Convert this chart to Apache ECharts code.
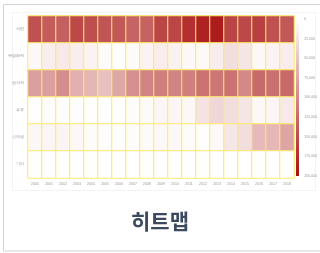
<!DOCTYPE html>
<html>
<head>
<meta charset="utf-8">
<script src="https://cdn.jsdelivr.net/npm/echarts@6/dist/echarts.min.js"></script>
<style>
html,body{margin:0;padding:0;background:#fff;}
#c{width:320px;height:253px;}
</style>
</head>
<body>
<div id="c"></div>
<script>
const years = ["2000","2001","2002","2003","2004","2005","2006","2007","2008","2009","2010","2011","2012","2013","2014","2015","2016","2017","2018"];
const rows = ["석탄","복합화력","원자력","유류","신재생","기타"];
const row1 = [146000,136000,133000,153000,148000,143000,140000,130000,131000,155000,155000,173000,185000,190000,156000,153000,160000,146000,140000];
const row2 = [6000,14000,18000,14000,10000,4000,2000,4000,10000,16000,12000,6000,5000,16000,28000,22000,6000,10000,16000];
const row3 = [80000,80000,95000,66000,61000,53000,73000,93000,103000,108000,104000,108000,118000,115000,118000,100000,125000,120000,125000];
const row4 = [1000,3000,2000,2000,1000,1000,1000,3000,4000,8000,8000,6000,24000,34000,28000,22000,6000,8000,18000];
const row5 = [7000,8000,9000,6000,3000,2000,2000,3000,4000,6000,6000,3000,1000,5000,20000,28000,58000,60000,75000];
const row6 = [0,0,0,0,0,0,0,0,0,0,0,0,0,0,0,0,0,0,0];
const scaleMax = 200000;
const scaleTicks = 25000;
const title = "히트맵";

const allRows = [row1,row2,row3,row4,row5,row6];
const data = [];
allRows.forEach((r, ri) => r.forEach((v, xi) => data.push([xi, ri, v])));

const chart = echarts.init(document.getElementById('c'), null, {renderer:'canvas'});
chart.setOption({
  backgroundColor:'#ffffff',
  animation:false,
  grid:[
    {left:28, top:16, width:266, height:162},
    {left:296, top:19, width:3, height:157}
  ],
  xAxis:[
    {type:'category', data:years, gridIndex:0, axisLine:{show:false}, axisTick:{show:false},
     axisLabel:{fontSize:3.5, color:'#999', margin:4, interval:0}, splitArea:{show:false}},
    {type:'value', gridIndex:1, show:false, min:0, max:1}
  ],
  yAxis:[
    {type:'category', data:rows, inverse:true, gridIndex:0, axisLine:{show:false}, axisTick:{show:false},
     axisLabel:{fontSize:3.5, color:'#999', margin:4}},
    {type:'value', gridIndex:1, min:0, max:scaleMax, interval:scaleTicks, inverse:true, position:'right',
     axisLine:{show:false}, axisTick:{show:false}, splitLine:{show:false},
     axisLabel:{fontSize:3.5, color:'#999', margin:6,
       formatter:v => v.toLocaleString('en-US')}}
  ],
  visualMap:{show:false, min:0, max:scaleMax, seriesIndex:0, dimension:2,
    inRange:{color:['#ffffff','#a81010']}},
  series:[{
    type:'heatmap', xAxisIndex:0, yAxisIndex:0, data:data,
    itemStyle:{borderColor:'#fde96b', borderWidth:1}
  }],
  graphic:[
    {type:'rect', shape:{x:3.5, y:4.5, width:330, height:246.5}, style:{fill:'none', stroke:'#d4d4d4', lineWidth:1}, silent:true, z:-10},
    {type:'rect', shape:{x:12.5, y:12.5, width:303, height:178}, style:{fill:'none', stroke:'#f3f3f3', lineWidth:1}, silent:true, z:-10},
    {type:'rect', shape:{x:296, y:19, width:3, height:157},
     style:{fill:new echarts.graphic.LinearGradient(0,0,0,1,[{offset:0,color:'#ffffff'},{offset:1,color:'#a81010'}])}, silent:true},
    {type:'text', left:'center', top:211, style:{text:title, fontSize:21, fontWeight:'bold', fill:'#3b4a5e',
      fontFamily:'"Noto Sans CJK KR", "Noto Sans", sans-serif'}}
  ]
});
</script>
</body>
</html>
